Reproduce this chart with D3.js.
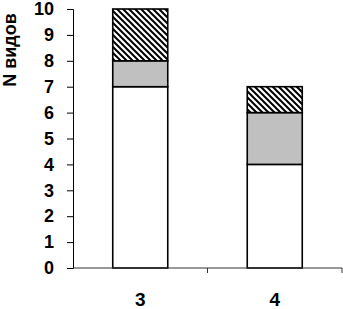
<!DOCTYPE html>
<html><head><meta charset="utf-8">
<script src="https://cdn.jsdelivr.net/npm/d3@7"></script>
<style>body{margin:0;background:#fff}svg{display:block}</style>
</head><body>
<svg id="c" width="343" height="309"></svg>
<script>
const categories = ["3", "4"];
const seriesWhite = [7, 4];
const seriesGray = [1, 2];
const seriesHatch = [2, 1];
const yTicks = [0,1,2,3,4,5,6,7,8,9,10];
const yLabel = "N видов";

const svg = d3.select("#c");
const defs = svg.append("defs");
const pat = defs.append("pattern").attr("id","hatch").attr("patternUnits","userSpaceOnUse")
  .attr("width",6).attr("height",6);
pat.append("rect").attr("width",6).attr("height",6).attr("fill","#fff");
pat.append("path").attr("d","M-1,-1 L7,7 M-4,2 L4,10 M2,-4 L10,4").attr("stroke","#000").attr("stroke-width",2);

const x = d3.scaleBand().domain(categories).range([73,342]).paddingInner(0.591).paddingOuter(0.2955);
const y = d3.scaleLinear().domain([0,10]).range([268,9]);

const keys = ["white","gray","hatch"];
const data = categories.map((c,i)=>({cat:c, white:seriesWhite[i], gray:seriesGray[i], hatch:seriesHatch[i]}));
const stack = d3.stack().keys(keys)(data);
const fills = {white:"#fff", gray:"#c0c0c0", hatch:"url(#hatch)"};

stack.forEach(s=>{
  svg.append("g").selectAll("rect").data(s).join("rect")
    .attr("x",d=>x(d.data.cat)).attr("width",x.bandwidth())
    .attr("y",d=>y(d[1])).attr("height",d=>y(d[0])-y(d[1]))
    .attr("fill",fills[s.key]).attr("stroke","#000").attr("stroke-width",1.6);
});

const font = "Arial, 'Liberation Sans', sans-serif";
// y axis
const ya = svg.append("g").attr("transform","translate(73,0)")
  .call(d3.axisLeft(y).tickValues(yTicks).tickSize(6).tickPadding(13).tickFormat(d3.format("d")));
ya.select(".domain").attr("stroke","#000");
ya.selectAll("text").attr("font-family",font).attr("font-size",18).attr("font-weight","bold").attr("fill","#000");

// x axis
const xa = svg.append("g").attr("transform","translate(0,268)");
xa.append("line").attr("x1",73).attr("x2",342).attr("y1",0).attr("y2",0).attr("stroke","#333");
const bounds = categories.map(c=>x(c)+x.bandwidth()/2 + x.step()/2);
xa.selectAll("line.t").data(bounds).join("line").attr("class","t")
  .attr("x1",d=>d).attr("x2",d=>d).attr("y1",0).attr("y2",5).attr("stroke","#333");
xa.selectAll("text").data(categories).join("text")
  .attr("x",d=>x(d)+x.bandwidth()/2).attr("y",38).attr("text-anchor","middle")
  .attr("font-family",font).attr("font-size",19).attr("font-weight","bold")
  .text(d=>d);

svg.append("text").attr("transform","translate(16,50) rotate(-90)").attr("text-anchor","middle")
  .attr("font-family",font).attr("font-size",18).attr("font-weight","bold")
  .text(yLabel);
</script>
</body></html>
